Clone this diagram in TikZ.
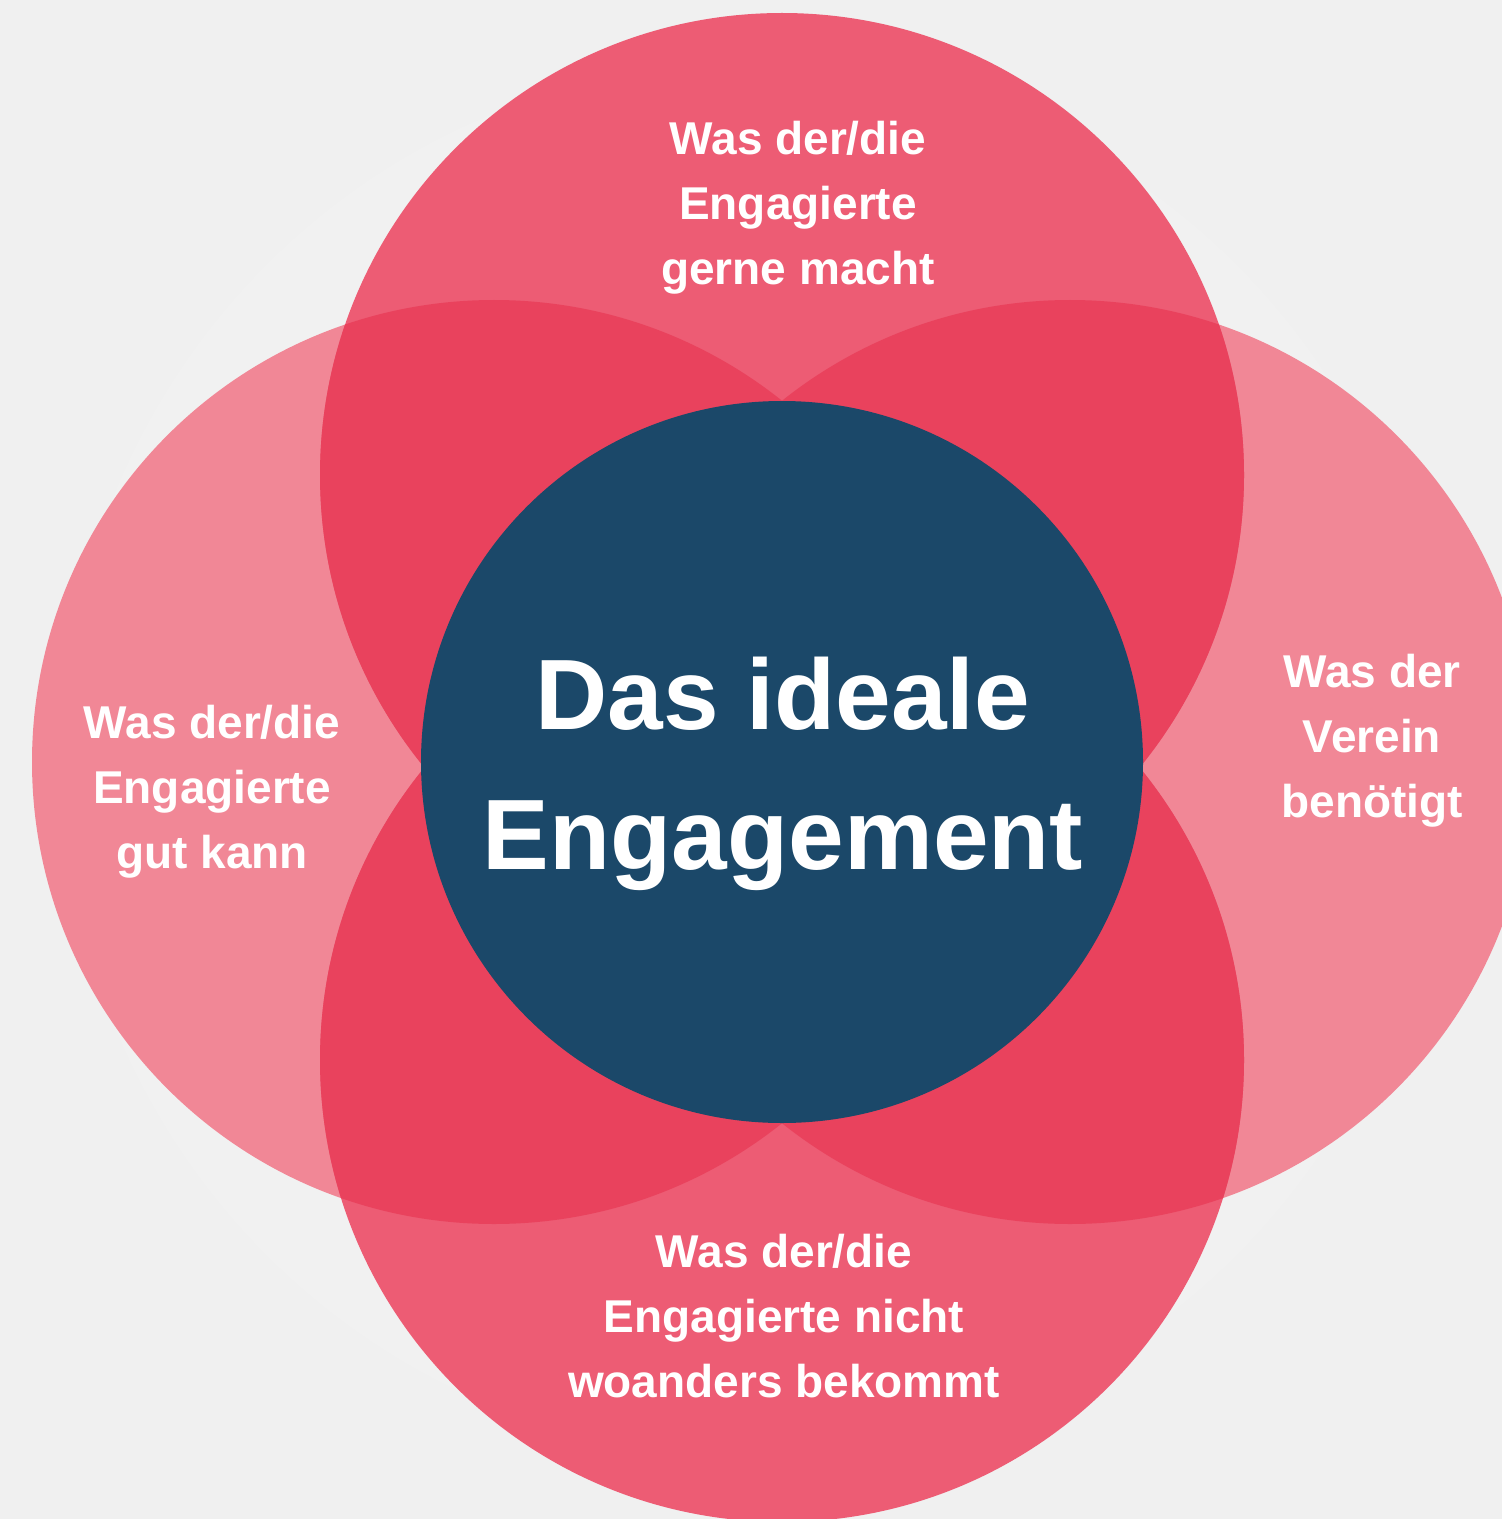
\documentclass[tikz,border=0pt]{standalone}
\usepackage{fontspec}
\setmainfont{Liberation Sans}
\definecolor{bgc}{HTML}{F6F6F6}
\definecolor{bgedge}{HTML}{F0F0F0}
\definecolor{sidepink}{HTML}{F18796}
\definecolor{midpink}{HTML}{ED5C74}
\definecolor{darkpink}{HTML}{E9425D}
\definecolor{navy}{HTML}{1B4869}
\tikzset{
  lbl/.style={text=white, font=\fontsize{23}{32.5}\selectfont\bfseries, align=center, anchor=base, inner sep=0pt},
  biglbl/.style={text=white, font=\fontsize{50}{70}\selectfont\bfseries, align=center, anchor=base, inner sep=0pt}
}
\begin{document}
\begin{tikzpicture}[x=0.5pt,y=-0.5pt]
\useasboundingbox (0,0) rectangle (1502,1519);
\clip (0,0) rectangle (1502,1519);
\shade[inner color=bgc, outer color=bgedge] (0,0) rectangle (1502,1519);
% side circles
\fill[sidepink] (494,762) circle[radius=231pt];
\fill[sidepink] (1070,762) circle[radius=231pt];
% top and bottom circles
\fill[midpink] (782,475) circle[radius=231pt];
\fill[midpink] (782,1060) circle[radius=231pt];
% overlaps
\begin{scope}
  \clip (782,475) circle[radius=231pt];
  \fill[darkpink] (494,762) circle[radius=231pt];
  \fill[darkpink] (1070,762) circle[radius=231pt];
\end{scope}
\begin{scope}
  \clip (782,1060) circle[radius=231pt];
  \fill[darkpink] (494,762) circle[radius=231pt];
  \fill[darkpink] (1070,762) circle[radius=231pt];
\end{scope}
% centre
\fill[navy] (782,762) circle[radius=180.5pt];
% labels
\node[biglbl] (centre) at (783,869) {Das ideale\\Engagement};
\node[lbl] (toplbl) at (798,285) {Was der/die\\Engagierte\\gerne macht};
\node[lbl] (leftlbl) at (212,868) {Was der/die\\Engagierte\\gut kann};
\node[lbl] (rightlbl) at (1372,817) {Was der\\Verein\\benötigt};
\node[lbl] (bottomlbl) at (784,1397) {Was der/die\\Engagierte nicht\\woanders bekommt};
\end{tikzpicture}
\end{document}
